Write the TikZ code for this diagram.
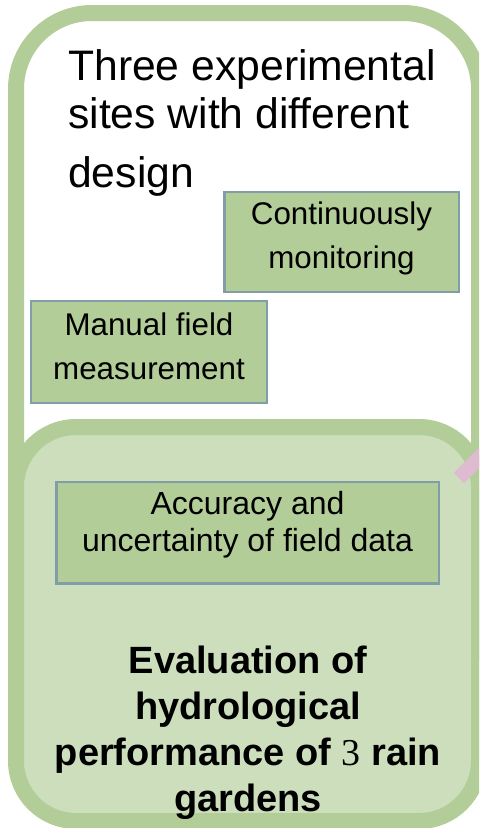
\documentclass[tikz,border=0pt]{standalone}
\usepackage{fontspec}
\setmainfont{Liberation Sans}
\newfontfamily\serifdigit{Liberation Serif}
\usepackage{xcolor}
\definecolor{rgborder}{RGB}{179,205,152}
\definecolor{rgfill}{RGB}{205,222,189}
\definecolor{rgbox}{RGB}{179,205,152}
\definecolor{rgedge}{RGB}{128,157,168}
\definecolor{rgpink}{RGB}{222,187,208}
\usetikzlibrary{positioning}

\begin{document}
\begin{tikzpicture}[x=0.75pt, y=-0.75pt,
  panel/.style={line width=12pt, draw=rgborder},
  taskbox/.style={draw=rgedge, fill=rgbox, line width=2pt, align=center,
    inner sep=0pt, font=\fontsize{23.5}{33}\selectfont}]
  \useasboundingbox (0,0) rectangle (479,828);
  \clip (0,0) rectangle (479,828);

  % --- Upper panel: the three sites ---
  \draw[panel, fill=white, rounded corners=57pt] (16,13) rectangle (479,700);
  \node[anchor=base west, align=left, inner sep=0pt,
        font=\fontsize{32}{36}\selectfont] (sites) at (68,187)
       {Three experimental\\sites with different\\[8pt]design};
  \node[taskbox, minimum width=176pt, minimum height=75pt, text depth=11pt] (monitor) at (341.5,242)
       {Continuously\\monitoring};
  \node[taskbox, minimum width=177pt, minimum height=76.5pt, text depth=9pt] (manual) at (149,352)
       {Manual field\\measurement};

  % --- Lower panel: evaluation ---
  \draw[panel, fill=rgfill, rounded corners=45pt] (16,427) rectangle (479,821);
  \node[taskbox, minimum width=287pt, minimum height=76pt, text depth=17pt,
        font=\fontsize{24}{28}\selectfont] (accuracy) at (247.5,532.5)
       {Accuracy and\\uncertainty of field data};
  \node[align=center, font=\fontsize{28.5}{34.5}\selectfont\bfseries] (evaluation) at (248,733)
       {Evaluation of\\hydrological\\performance of {\serifdigit\mdseries 3} rain\\gardens};

  % link running off the right edge
  \coordinate (linkstart) at (459,478);
  \coordinate (linkend) at (505,432);
  \draw[rgpink, line width=11pt] (linkstart) -- (linkend);
\end{tikzpicture}
\end{document}
